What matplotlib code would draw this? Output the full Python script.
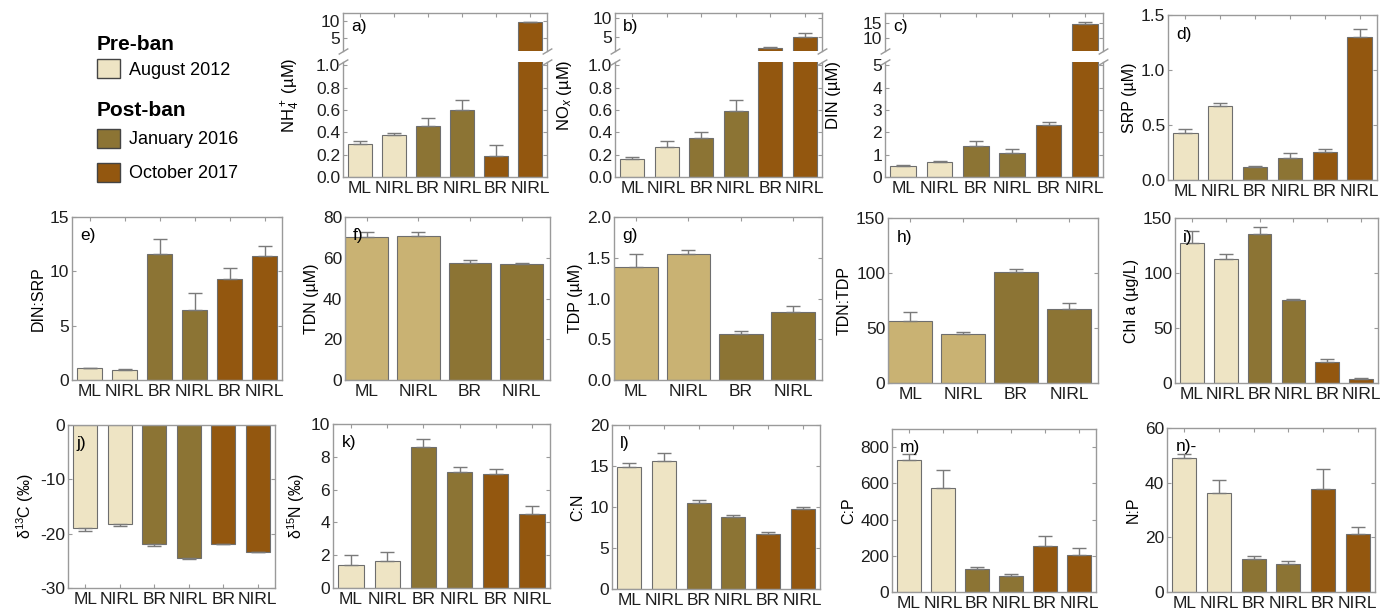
import matplotlib
matplotlib.use("Agg")
import matplotlib.pyplot as plt
import numpy as np
from matplotlib.patches import Patch
from matplotlib.ticker import FormatStrFormatter

plt.rcParams['font.family'] = ['Liberation Sans', 'DejaVu Sans']
plt.rcParams['mathtext.fontset'] = 'custom'
plt.rcParams['mathtext.rm'] = 'Liberation Sans'
plt.rcParams['mathtext.it'] = 'Liberation Sans:italic'
plt.rcParams['axes.unicode_minus'] = False

# sites / groups
sites6 = ['ML', 'NIRL', 'BR', 'NIRL', 'BR', 'NIRL']
sites4 = ['ML', 'NIRL', 'BR', 'NIRL']
groups = ['August 2012', 'January 2016', 'October 2017']

# panel data: mean, error
nh4 = [0.30, 0.38, 0.46, 0.60, 0.19, 9.8]
nh4_err = [0.02, 0.01, 0.07, 0.09, 0.10, 0.1]
nox = [0.16, 0.27, 0.35, 0.59, 2.0, 5.0]
nox_err = [0.02, 0.05, 0.05, 0.10, 0.1, 1.1]
din = [0.48, 0.66, 1.39, 1.09, 2.34, 14.7]
din_err = [0.04, 0.06, 0.21, 0.18, 0.12, 0.6]
srp = [0.424, 0.676, 0.118, 0.203, 0.255, 1.297]
srp_err = [0.043, 0.021, 0.006, 0.039, 0.024, 0.076]
din_srp = [1.09, 0.94, 11.6, 6.4, 9.3, 11.45]
din_srp_err = [0.06, 0.06, 1.35, 1.6, 1.05, 0.9]
tdn = [70.0, 70.8, 57.2, 56.7]
tdn_err = [2.5, 1.7, 1.6, 0.8]
tdp = [1.39, 1.54, 0.56, 0.84]
tdp_err = [0.16, 0.06, 0.04, 0.07]
tdn_tdp = [56.0, 45.0, 100.6, 67.6]
tdn_tdp_err = [8.5, 1.0, 3.4, 4.8]
chla = [127.0, 113.0, 135.3, 75.4, 19.1, 3.3]
chla_err = [11.6, 4.3, 6.7, 1.2, 3.1, 1.0]
d13c = [-18.9, -18.2, -21.9, -24.4, -21.9, -23.4]
d13c_err = [0.6, 0.3, 0.3, 0.3, 0.0, 0.0]
d15n = [1.43, 1.65, 8.6, 7.08, 6.94, 4.5]
d15n_err = [0.57, 0.55, 0.46, 0.32, 0.31, 0.5]
cn = [14.9, 15.55, 10.5, 8.78, 6.65, 9.7]
cn_err = [0.5, 1.05, 0.36, 0.22, 0.25, 0.3]
cp = [730.0, 575.0, 125.0, 88.0, 252.0, 206.0]
cp_err = [30.0, 100.0, 13.0, 9.0, 59.0, 37.0]
np_ratio = [49.2, 36.1, 12.0, 10.2, 37.6, 21.05]
np_err = [1.2, 4.7, 1.2, 1.3, 7.3, 2.85]

c_aug = '#eee4c4'
c_tan = '#c9b273'
c_jan = '#8c7434'
c_oct = '#93570f'
cols6 = [c_aug, c_aug, c_jan, c_jan, c_oct, c_oct]
cols4 = [c_tan, c_tan, c_jan, c_jan]
spine_c = '#9a9a9a'
err_c = '#7a7a7a'

W, H = 1390, 615
fig = plt.figure(figsize=(13.9, 6.15), dpi=100)


def box(x0, y0, x1, y1):
    return [x0 / W, 1 - y1 / H, (x1 - x0) / W, (y1 - y0) / H]


def style(ax, n):
    for s in ax.spines.values():
        s.set_color(spine_c)
        s.set_linewidth(1.0)
    ax.tick_params(axis='both', direction='in', length=3, color=spine_c,
                   top=True, right=True, labelsize=12.5, pad=2, labelcolor='#1e1e1e')
    ax.tick_params(axis='x', labelsize=12.5, pad=3)
    if n == 6:
        ax.set_xlim(-0.5, 5.5)
    else:
        ax.set_xlim(-0.42, 3.55)


def bars(ax, vals, errs, neg=False, floor=None):
    n = len(vals)
    x = np.arange(n)
    v = np.array(vals, dtype=float)
    e = np.array(errs, dtype=float)
    if floor is not None:
        # in the upper part of a broken axis only the tall bars show
        keep = v > floor
        x, v, e = x[keep], v[keep], e[keep]
    cols = np.array(cols6 if n == 6 else cols4)[x]
    w = 0.7 if n == 6 else 0.83
    ax.bar(x, v, width=w, color=cols, edgecolor='#6e6e6e', linewidth=0.8, zorder=2)
    z = np.zeros(len(v))
    yerr = [e, z] if neg else [z, e]
    ax.errorbar(x, v, yerr=yerr, fmt='none', ecolor=err_c, elinewidth=1,
                capsize=5, capthick=1, zorder=3)
    style(ax, n)
    ax.set_xticks(np.arange(n))
    ax.set_xticklabels(sites6 if n == 6 else sites4)


def tag(ax, t, y=0.93):
    ax.text(0.04, y, t, transform=ax.transAxes, fontsize=12.5, va='top', ha='left')


def simple(rect, vals, errs, ylim, ticks, label, t, fmt=None, neg=False):
    ax = fig.add_axes(box(*rect))
    bars(ax, vals, errs, neg)
    ax.set_ylim(*ylim)
    ax.set_yticks(ticks)
    if fmt:
        ax.yaxis.set_major_formatter(FormatStrFormatter(fmt))
    ax.set_ylabel(label, fontsize=11.5, labelpad=3)
    tag(ax, t)
    return ax


def broken(x0, x1, vals, errs, lo_lim, lo_ticks, hi_lim, hi_ticks, label, t, fmt=None):
    up = fig.add_axes(box(x0, 13, x1, 51))
    lo = fig.add_axes(box(x0, 62, x1, 177))
    bars(up, vals, errs, floor=hi_lim[0])
    bars(lo, vals, errs)
    up.set_ylim(*hi_lim)
    up.set_yticks(hi_ticks)
    lo.set_ylim(*lo_lim)
    lo.set_yticks(lo_ticks)
    if fmt:
        lo.yaxis.set_major_formatter(FormatStrFormatter(fmt))
    up.spines['bottom'].set_visible(False)
    lo.spines['top'].set_visible(False)
    up.tick_params(axis='x', bottom=False, labelbottom=False)
    lo.tick_params(axis='x', top=False)
    kw = dict(marker=[(-1, -0.6), (1, 0.6)], markersize=7, linestyle='none',
              color=spine_c, mec=spine_c, mew=1, clip_on=False)
    up.plot([0, 1], [0, 0], transform=up.transAxes, **kw)
    lo.plot([0, 1], [1, 1], transform=lo.transAxes, **kw)
    lo.set_ylabel(label, fontsize=12, labelpad=3)
    lo.yaxis.set_label_coords(-0.2, 0.71)
    tag(up, t, y=0.85)


# row 1
broken(343, 547, nh4, nh4_err, (0, 1.03), np.arange(0, 1.01, 0.2), (1.0, 12.5), [5, 10],
       'NH$_4^+$ (µM)', 'a)', '%.1f')
broken(615, 822, nox, nox_err, (0, 1.03), np.arange(0, 1.01, 0.2), (1.1, 11.5), [5, 10],
       'NO$_x$ (µM)', 'b)', '%.1f')
broken(885, 1103, din, din_err, (0, 5.15), range(0, 6), (5.6, 18.3), [10, 15],
       'DIN (µM)', 'c)')
simple((1168, 15, 1377, 180), srp, srp_err, (0, 1.5), [0, 0.5, 1.0, 1.5], 'SRP (µM)', 'd)', '%.1f')

# row 2
simple((72, 217, 282, 380), din_srp, din_srp_err, (0, 15), [0, 5, 10, 15], 'DIN:SRP', 'e)')
simple((345, 217, 550, 380), tdn, tdn_err, (0, 80), [0, 20, 40, 60, 80], 'TDN (µM)', 'f)')
simple((614, 217, 822, 380), tdp, tdp_err, (0, 2.0), [0, 0.5, 1.0, 1.5, 2.0], 'TDP (µM)', 'g)', '%.1f')
simple((888, 218, 1098, 383), tdn_tdp, tdn_tdp_err, (0, 150), [0, 50, 100, 150], 'TDN:TDP', 'h)')
simple((1175, 218, 1378, 383), chla, chla_err, (0, 150), [0, 50, 100, 150], 'Chl a (µg/L)', 'i)')

# row 3
simple((68, 425, 275, 588), d13c, d13c_err, (-30, 0), [-30, -20, -10, 0],
       'δ$^{13}$C (‰)', 'j)', neg=True)
simple((333, 424, 550, 588), d15n, d15n_err, (0, 10), [0, 2, 4, 6, 8, 10], 'δ$^{15}$N (‰)', 'k)')
simple((612, 425, 820, 589), cn, cn_err, (0, 20), [0, 5, 10, 15, 20], 'C:N', 'l)')
simple((892, 429, 1096, 592), cp, cp_err, (0, 900), [0, 200, 400, 600, 800], 'C:P', 'm)')
simple((1167, 428, 1375, 592), np_ratio, np_err, (0, 60), [0, 20, 40, 60], 'N:P', 'n)-')

# legend: bold group headings, then the sampling dates
fig.text(97 / W, 1 - 45 / H, 'Pre-ban', fontsize=15, fontweight='bold', va='center', ha='left')
fig.text(97 / W, 1 - 110 / H, 'Post-ban', fontsize=15, fontweight='bold', va='center', ha='left')
h_pre = [Patch(facecolor=c_aug, edgecolor='#444444', label=groups[0])]
h_post = [Patch(facecolor=c_jan, edgecolor='#444444', label=groups[1]),
          Patch(facecolor=c_oct, edgecolor='#444444', label=groups[2])]
lkw = dict(frameon=False, fontsize=13, handlelength=1.27, handleheight=1.27,
           handletextpad=0.5, borderaxespad=0, borderpad=0)
fig.legend(handles=h_pre, loc='center left', bbox_to_anchor=(97 / W, 1 - 69 / H), **lkw)
fig.legend(handles=h_post, loc='center left', bbox_to_anchor=(97 / W, 1 - 155.5 / H),
           labelspacing=0.78, **lkw)

fig.savefig('out.png', dpi=100)
